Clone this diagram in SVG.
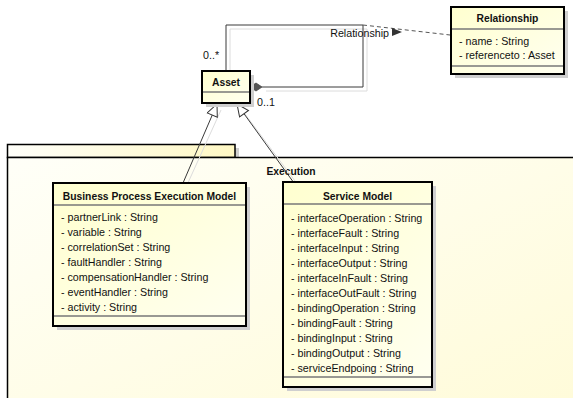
<svg xmlns="http://www.w3.org/2000/svg" width="573" height="398" viewBox="0 0 573 398">
  <style>
    text { font-family: "Liberation Sans", Arial, sans-serif; font-size: 10.7px; fill: #111; }
    .title { font-weight: bold; font-size: 10.3px; text-anchor: middle; }
    .box { fill: url(#classFill); stroke: #000; stroke-width: 2; }
    .shadow { fill: #cfcfcf; }
    .div { stroke: #777; stroke-width: 1.5; }
    .line { fill: none; stroke: #3a3a3a; stroke-width: 1; }
    .lineShadow { fill: none; stroke: #dcdcdc; stroke-width: 1; }
    .dash { fill: none; stroke: #555; stroke-width: 1; stroke-dasharray: 4 3; }
  </style>
  <defs>
    <linearGradient id="classFill" x1="0" y1="0" x2="1" y2="1">
      <stop offset="0" stop-color="#ffffcf"/>
      <stop offset="1" stop-color="#fffff0"/>
    </linearGradient>
    <linearGradient id="pkgFill" x1="0" y1="0" x2="1" y2="1">
      <stop offset="0" stop-color="#fffff8"/>
      <stop offset="1" stop-color="#fffbd8"/>
    </linearGradient>
    <linearGradient id="tabFill" x1="0" y1="0" x2="1" y2="0">
      <stop offset="0" stop-color="#fffffa"/>
      <stop offset="1" stop-color="#fff8c4"/>
    </linearGradient>
    <marker id="genHead" markerUnits="userSpaceOnUse" markerWidth="16" markerHeight="14" refX="13" refY="6" orient="auto">
      <path d="M1,0.5 L13,6 L1,11.5 z" fill="#fff" stroke="#333" stroke-width="1"/>
    </marker>
  </defs>

  <!-- package Execution -->
  <g id="pkg-execution">
    <rect x="11" y="148" width="228" height="13" class="shadow"/>
    <rect x="7.5" y="144.5" width="227.5" height="13" fill="url(#tabFill)" stroke="#000" stroke-width="1.5"/>
    <rect x="7.5" y="157.5" width="580" height="260" fill="url(#pkgFill)" stroke="#000" stroke-width="1.5"/>
    <text x="291" y="175" class="title">Execution</text>
  </g>

  <!-- connectors -->
  <g id="connectors">
    <!-- shadows -->
    <polyline class="lineShadow" points="230,75 230,29 367,29 367,91 266,91"/>
    <line class="lineShadow" x1="187" y1="185" x2="221" y2="110"/>
    <line class="lineShadow" x1="298" y1="185" x2="242" y2="110"/>
    <!-- self association on Asset -->
    <polyline class="line" points="226,71 226,25 363,25 363,87 262,87"/>
    <polygon points="250,87 256,83 262,87 256,91" fill="#555" stroke="#444" stroke-width="0.8"/>
    <text x="203" y="59">0..*</text>
    <text x="257" y="106">0..1</text>
    <!-- association class link -->
    <line class="dash" x1="363" y1="25" x2="450" y2="35"/>
    <text x="389" y="37" text-anchor="end">Relationship</text>
    <polygon points="392,28 392,36 402,32" fill="#333"/>
    <!-- generalizations -->
    <line class="line" x1="183" y1="183" x2="217" y2="104" marker-end="url(#genHead)"/>
    <line class="line" x1="294" y1="183" x2="237" y2="104" marker-end="url(#genHead)"/>
  </g>

  <!-- Asset -->
  <g id="asset">
    <rect x="206" y="75" width="48" height="32" class="shadow"/>
    <rect x="202" y="71" width="48" height="32" class="box"/>
    <line x1="203" y1="92" x2="249" y2="92" class="div"/>
    <text x="226" y="86" class="title">Asset</text>
  </g>

  <!-- Relationship -->
  <g id="relationship">
    <rect x="455" y="11" width="113" height="67" class="shadow"/>
    <rect x="451" y="7" width="113" height="67" class="box"/>
    <line x1="452" y1="29" x2="563" y2="29" class="div"/>
    <line x1="452" y1="66" x2="563" y2="66" class="div"/>
    <text x="507.5" y="22" class="title">Relationship</text>
    <text x="459" y="45">- name : String</text>
    <text x="459" y="59">- referenceto : Asset</text>
  </g>

  <!-- Business Process Execution Model -->
  <g id="bpem">
    <rect x="57" y="187" width="193" height="143" class="shadow"/>
    <rect x="53" y="183" width="193" height="143" class="box"/>
    <line x1="54" y1="205" x2="245" y2="205" class="div"/>
    <line x1="54" y1="316" x2="245" y2="316" class="div"/>
    <text x="149.5" y="199.5" class="title">Business Process Execution Model</text>
    <text x="61" y="221">- partnerLink : String</text>
    <text x="61" y="236">- variable : String</text>
    <text x="61" y="251">- correlationSet : String</text>
    <text x="61" y="266">- faultHandler : String</text>
    <text x="61" y="281">- compensationHandler : String</text>
    <text x="61" y="296">- eventHandler : String</text>
    <text x="61" y="310.5">- activity : String</text>
  </g>

  <!-- Service Model -->
  <g id="service-model">
    <rect x="287" y="186" width="149" height="205" class="shadow"/>
    <rect x="283" y="182" width="149" height="205" class="box"/>
    <line x1="284" y1="204" x2="431" y2="204" class="div"/>
    <line x1="284" y1="377" x2="431" y2="377" class="div"/>
    <text x="357.5" y="200" class="title">Service Model</text>
    <text x="291" y="222">- interfaceOperation : String</text>
    <text x="291" y="237">- interfaceFault : String</text>
    <text x="291" y="252">- interfaceInput : String</text>
    <text x="291" y="267">- interfaceOutput : String</text>
    <text x="291" y="282">- interfaceInFault : String</text>
    <text x="291" y="297">- interfaceOutFault : String</text>
    <text x="291" y="312">- bindingOperation : String</text>
    <text x="291" y="327">- bindingFault : String</text>
    <text x="291" y="342">- bindingInput : String</text>
    <text x="291" y="357">- bindingOutput : String</text>
    <text x="291" y="372">- serviceEndpoing : String</text>
  </g>
</svg>
